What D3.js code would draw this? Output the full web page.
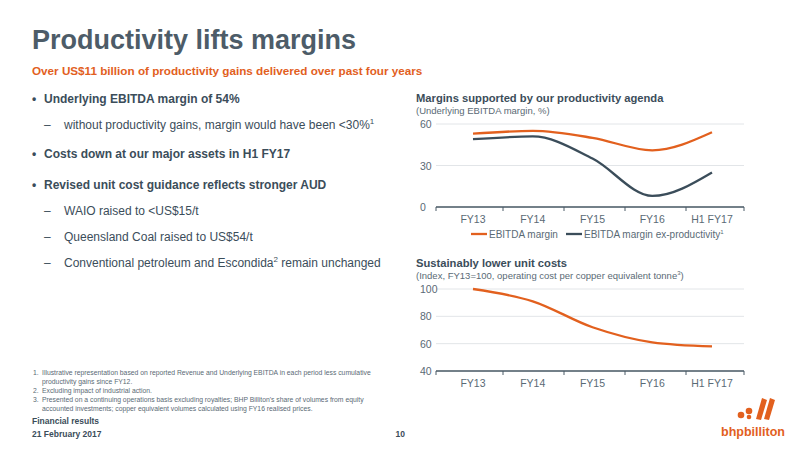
<!DOCTYPE html>
<html><head><meta charset="utf-8">
<script src="https://cdn.jsdelivr.net/npm/d3@7"></script>
<style>body{margin:0;background:#fff;font-family:"Liberation Sans",Arial,sans-serif}</style>
</head><body>
<script>
var categories = ["FY13", "FY14", "FY15", "FY16", "H1 FY17"];
var ebitdaMargin = [53, 55, 50, 41, 54];
var exProductivity = [49, 51, 35, 8, 25];
var marginTicks = [0, 30, 60];
var unitCost = [100, 91, 72, 61, 58];
var costTicks = [40, 60, 80, 100];

var ORANGE = "#e2601e", DARK = "#3b4d5a", GREY = "#5a6a75";

var svg = d3.select("body").append("svg").attr("width", 800).attr("height", 450);

function txt(x, y, s, size, fill, weight, anchor) {
  return svg.append("text").attr("x", x).attr("y", y).text(s)
    .attr("font-size", size).attr("fill", fill)
    .attr("font-weight", weight || "normal").attr("text-anchor", anchor || "start");
}

// header
txt(32, 49, "Productivity lifts margins", 27, "#4d5c68", "bold");
txt(32, 75, "Over US$11 billion of productivity gains delivered over past four years", 11.7, ORANGE, "bold");

// bullets
var bullets = [
  [false, 103, "Underlying EBITDA margin of 54%"],
  [true, 129, "without productivity gains, margin would have been <30%", "1"],
  [false, 158, "Costs down at our major assets in H1 FY17"],
  [false, 189, "Revised unit cost guidance reflects stronger AUD"],
  [true, 215, "WAIO raised to <US$15/t"],
  [true, 241, "Queensland Coal raised to US$54/t"],
  [true, 267, "Conventional petroleum and Escondida", "2", " remain unchanged"]
];
bullets.forEach(function(b) {
  if (!b[0]) {
    txt(32, b[1], "•", 12, DARK, "bold");
    txt(44, b[1], b[2], 12, DARK, "bold");
  } else {
    txt(44, b[1], "–", 12, DARK);
    var t = txt(64, b[1], b[2], 12, DARK);
    if (b[3]) t.append("tspan").attr("font-size", 8).attr("dy", -5).text(b[3]);
    if (b[4]) t.append("tspan").attr("dy", 5).text(b[4]);
  }
});

function lineChart(top, bottom, domain, ticks, series, colors) {
  var x = d3.scalePoint().domain(categories).range([473, 712]);
  var y = d3.scaleLinear().domain(domain).range([bottom, top]);
  var g = svg.append("g");
  g.selectAll(".grid").data(ticks).enter().append("line")
    .attr("x1", 436).attr("x2", 744).attr("y1", y).attr("y2", y)
    .attr("stroke", "#e2e5e8").attr("stroke-width", 1);
  g.append("line").attr("x1", 436).attr("x2", 744).attr("y1", bottom).attr("y2", bottom)
    .attr("stroke", "#4a5a66").attr("stroke-width", 1.5);
  var bx = [436, 503, 564, 625, 686, 744];
  g.selectAll(".tk").data(bx).enter().append("line")
    .attr("x1", function(d){return d;}).attr("x2", function(d){return d;})
    .attr("y1", bottom).attr("y2", bottom + 4).attr("stroke", "#4a5a66");
  g.selectAll(".yl").data(ticks).enter().append("text")
    .attr("x", 420).attr("y", function(d){return y(d) + 4;})
    .attr("font-size", 10.5).attr("fill", GREY).text(function(d){return d;});
  g.selectAll(".xl").data(categories).enter().append("text")
    .attr("x", function(d){return x(d);}).attr("y", bottom + 16)
    .attr("text-anchor", "middle").attr("font-size", 10.5).attr("fill", GREY)
    .text(function(d){return d;});
  var line = d3.line().x(function(d, i){return x(categories[i]);}).y(function(d){return y(d);})
    .curve(d3.curveMonotoneX);
  series.forEach(function(s, i) {
    g.append("path").attr("d", line(s)).attr("fill", "none")
      .attr("stroke", colors[i]).attr("stroke-width", 2.3);
  });
}

// chart 1
txt(416, 102, "Margins supported by our productivity agenda", 11.2, DARK, "bold");
txt(416, 114, "(Underlying EBITDA margin, %)", 9.5, GREY);
lineChart(124, 207, [0, 60], marginTicks, [ebitdaMargin, exProductivity], [ORANGE, DARK]);
svg.append("line").attr("x1", 471).attr("x2", 487).attr("y1", 234).attr("y2", 234).attr("stroke", ORANGE).attr("stroke-width", 2.3);
txt(489, 238, "EBITDA margin", 10, GREY);
var lt = txt(584, 238, "EBITDA margin ex-productivity", 10, GREY);
lt.append("tspan").attr("font-size", 6).attr("dy", -4).text("1");
svg.append("line").attr("x1", 566).attr("x2", 582).attr("y1", 234).attr("y2", 234).attr("stroke", DARK).attr("stroke-width", 2.3);

// chart 2
txt(416, 267, "Sustainably lower unit costs", 11.2, DARK, "bold");
var st = txt(416, 279, "(Index, FY13=100, operating cost per copper equivalent tonne", 9.5, GREY);
st.append("tspan").attr("font-size", 6).attr("dy", -4).text("3");
st.append("tspan").attr("dy", 4).text(")");
lineChart(289, 371, [40, 100], costTicks, [unitCost], [ORANGE]);

// footnotes
var notes = [
  ["1.", "Illustrative representation based on reported Revenue and Underlying EBITDA in each period less cumulative", 375],
  ["", "productivity gains since FY12.", 384],
  ["2.", "Excluding impact of industrial action.", 393],
  ["3.", "Presented on a continuing operations basis excluding royalties; BHP Billiton's share of volumes from equity", 402],
  ["", "accounted investments; copper equivalent volumes calculated using FY16 realised prices.", 411]
];
notes.forEach(function(n) {
  if (n[0]) txt(33, n[2], n[0], 6.8, GREY);
  txt(42, n[2], n[1], 6.8, GREY);
});
txt(32, 424, "Financial results", 8.5, DARK, "bold");
txt(32, 437, "21 February 2017", 8.5, DARK, "bold");
txt(405, 437, "10", 8.5, DARK, "bold", "end");

// logo
var logo = svg.append("g").attr("fill", ORANGE);
logo.append("circle").attr("cx", 741).attr("cy", 415).attr("r", 3.3);
logo.append("circle").attr("cx", 749).attr("cy", 411).attr("r", 3.3);
logo.append("circle").attr("cx", 749).attr("cy", 417).attr("r", 2.3);
logo.append("path").attr("d", "M756,419 L762,398 L767,400 L761,420 Z");
logo.append("path").attr("d", "M764,419 L770,398 L775,400 L769,420 Z");
txt(753, 436, "bhpbilliton", 12.5, ORANGE, "bold", "middle");
</script>
</body></html>
